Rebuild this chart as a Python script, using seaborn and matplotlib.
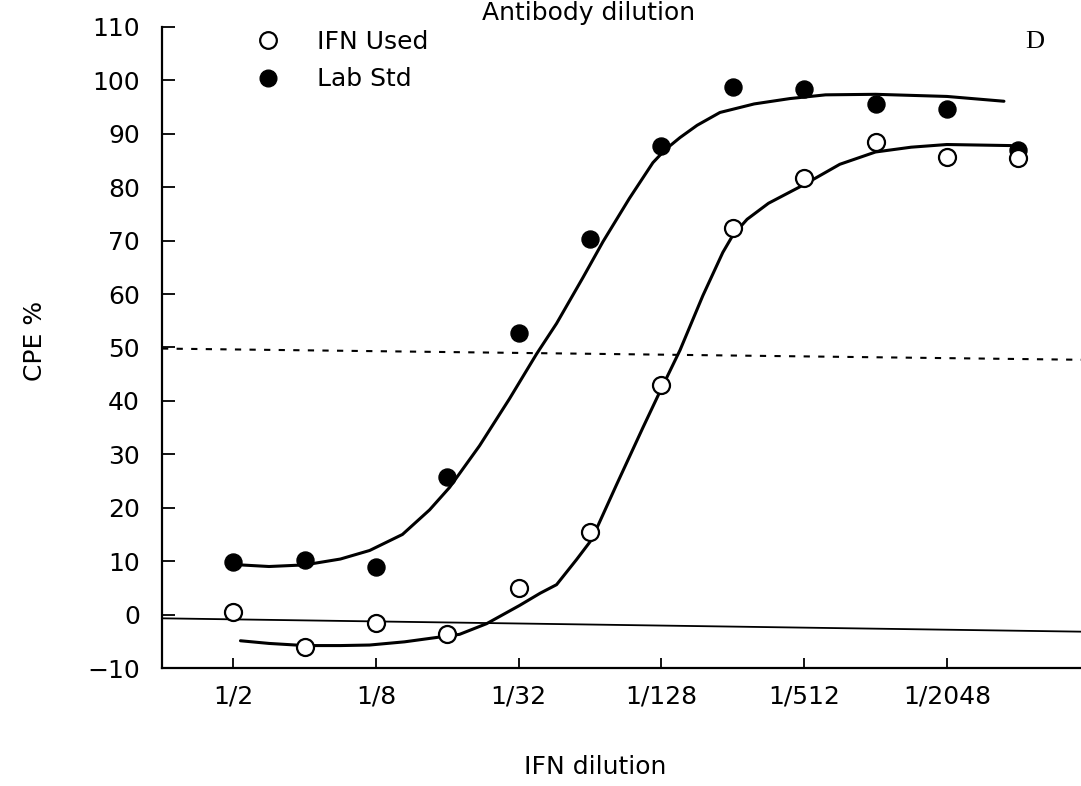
import numpy as np
import pandas as pd
import matplotlib
matplotlib.use("Agg")
import matplotlib.pyplot as plt
import seaborn as sns
from matplotlib.lines import Line2D

# ---- data ----
dilution_idx = [1, 2, 3, 4, 5, 6, 7, 8, 9, 10, 11, 12]   # log2 of dilution denominator
ifn_used = [0.5, -6.0, -1.5, -3.6, 4.9, 15.5, 43.0, 72.3, 81.8, 88.4, 85.6, 85.4]
lab_std = [9.8, 10.2, 8.9, 25.8, 52.8, 70.4, 87.7, 98.7, 98.4, 95.6, 94.6, 87.0]

# fitted curves as drawn in the figure
lab_curve_x = [1.1, 1.5, 2.0, 2.5, 2.91, 3.37, 3.75, 4.03, 4.45, 4.87, 5.25, 5.53, 5.9,
               6.18, 6.55, 6.88, 7.05, 7.26, 7.5, 7.82, 8.3, 8.8, 9.3, 10.0, 11.0, 11.8]
lab_curve_y = [9.3, 9.0, 9.3, 10.4, 12.0, 15.0, 19.6, 23.8, 31.6, 40.4, 48.8, 54.5, 63.1,
               69.8, 77.9, 84.6, 87.0, 89.3, 91.6, 94.0, 95.6, 96.6, 97.3, 97.4, 97.0, 96.1]
ifn_curve_x = [1.1, 1.5, 2.0, 2.5, 2.91, 3.4, 3.84, 4.17, 4.55, 5.01, 5.3, 5.53, 5.81, 6.02,
               6.37, 6.74, 6.97, 7.26, 7.58, 7.86, 8.0, 8.2, 8.5, 9.0, 9.5, 10.0, 10.5, 11.0, 11.9]
ifn_curve_y = [-4.9, -5.4, -5.8, -5.8, -5.7, -5.1, -4.3, -3.7, -1.7, 1.7, 4.0, 5.6, 10.3, 14.0,
               24.3, 35.0, 41.5, 49.5, 59.7, 67.8, 71.0, 74.0, 77.0, 80.5, 84.3, 86.6, 87.5, 88.0, 87.8]

# reference lines (50 % and 0 %), as they appear on the scan
ref_x = [0, 12.9]
ref50_y = [49.8, 47.7]
ref0_y = [-0.7, -3.2]

tick_pos = [1, 3, 5, 7, 9, 11]
tick_labels = ["1/2", "1/8", "1/32", "1/128", "1/512", "1/2048"]
y_ticks = list(range(-10, 111, 10))

sns.set_theme(style="white")
plt.rcParams['font.family'] = ['DejaVu Sans']
plt.rcParams['text.color'] = 'black'
plt.rcParams['axes.labelcolor'] = 'black'

FS = 18

fig = plt.figure(figsize=(10.81, 7.86), dpi=100)
ax = fig.add_axes([162 / 1081, 118 / 786, 919 / 1081, 641 / 786])

pts = pd.DataFrame({"k": dilution_idx * 2,
                    "cpe": ifn_used + lab_std,
                    "series": ["IFN Used"] * 12 + ["Lab Std"] * 12})
lab_df = pd.DataFrame({"k": lab_curve_x, "cpe": lab_curve_y})
ifn_df = pd.DataFrame({"k": ifn_curve_x, "cpe": ifn_curve_y})

sns.lineplot(data=lab_df, x="k", y="cpe", ax=ax, color="black", lw=2.2, sort=False, zorder=2)
sns.lineplot(data=ifn_df, x="k", y="cpe", ax=ax, color="black", lw=2.2, sort=False, zorder=2)

ax.plot(ref_x, ref50_y, color="black", lw=1.5, ls=(0, (3, 4)), zorder=1)
ax.plot(ref_x, ref0_y, color="black", lw=1.3, zorder=1)

sns.scatterplot(data=pts[pts.series == "Lab Std"], x="k", y="cpe", ax=ax, s=150,
                color="black", edgecolor="black", linewidth=1, zorder=4, legend=False)
sns.scatterplot(data=pts[pts.series == "IFN Used"], x="k", y="cpe", ax=ax, s=150,
                facecolor="white", edgecolor="black", linewidth=1.6, zorder=5, legend=False)

ax.set_xlim(0, 12.88)
ax.set_ylim(-10, 110)
ax.set_xticks(tick_pos)
ax.set_xticklabels(tick_labels)
ax.set_yticks(y_ticks)
ax.set_yticklabels([str(v).replace("-", "\u2212") for v in y_ticks])

for s in ["top", "right"]:
    ax.spines[s].set_visible(False)
for s in ["left", "bottom"]:
    ax.spines[s].set_color("black")
    ax.spines[s].set_linewidth(1.6)

ax.tick_params(axis="y", direction="in", length=9, width=1.3, pad=16, labelsize=FS, colors="black", left=True)
ax.tick_params(axis="x", direction="in", length=7, width=1.3, pad=12, labelsize=FS, colors="black", bottom=True)

ax.set_xlabel("IFN dilution", fontsize=FS, color="black")
ax.set_ylabel("CPE %", fontsize=FS, color="black")
ax.xaxis.set_label_coords(0.471, -0.136)
ax.yaxis.set_label_coords(-0.125, 0.51)

handles = [Line2D([], [], marker="o", ls="none", markersize=12, markerfacecolor="white",
                  markeredgecolor="black", markeredgewidth=1.6),
           Line2D([], [], marker="o", ls="none", markersize=12, markerfacecolor="black",
                  markeredgecolor="black")]
leg = ax.legend(handles, ["IFN Used", "Lab Std"], loc="upper left", bbox_to_anchor=(0.0776, 1.031),
                frameon=False, fontsize=FS, handletextpad=1.45, labelspacing=0.55, handlelength=1.0)
for t in leg.get_texts():
    t.set_color("black")

fig.text(0.544, 0.999, "Antibody dilution", ha="center", va="top", fontsize=FS, color="black")
fig.text(1035 / 1081, 1 - 48 / 786, "D", ha="center", va="baseline", fontsize=19,
         family=["Liberation Serif"], color="black")

fig.savefig("out.png", dpi=100)
